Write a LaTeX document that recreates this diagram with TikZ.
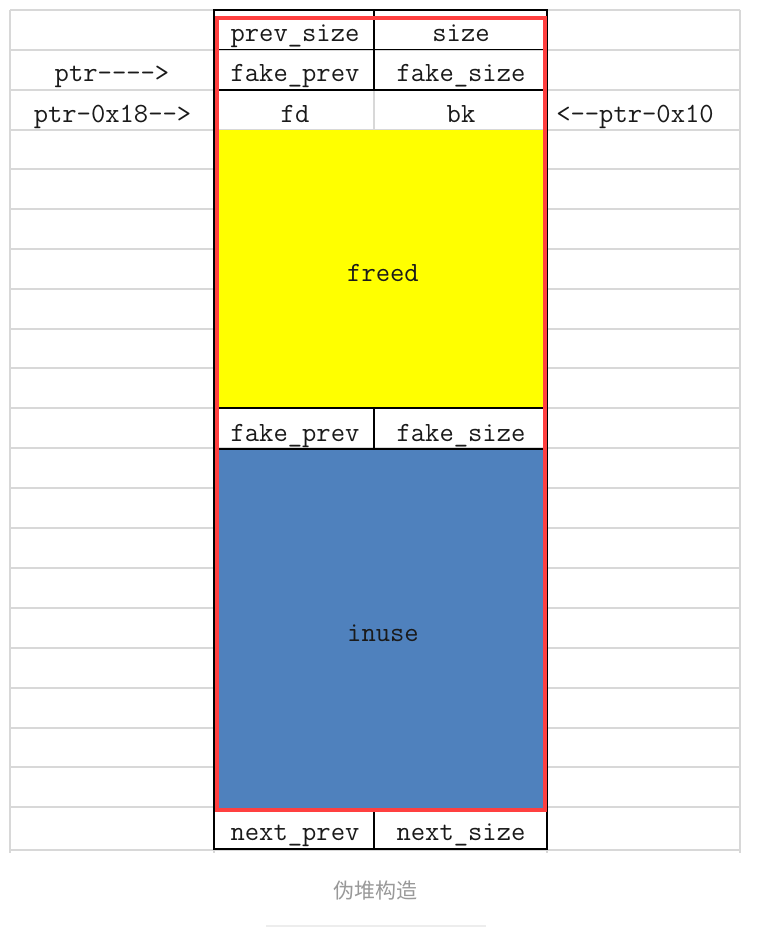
\documentclass[tikz,border=0pt]{standalone}
\usepackage{fontspec}
\newfontfamily\cjk{Noto Sans CJK SC}
\definecolor{gridgray}{HTML}{D8D8D8}
\definecolor{freedyellow}{HTML}{FFFF00}
\definecolor{inuseblue}{HTML}{4F81BD}
\definecolor{boxred}{HTML}{FF4040}
\definecolor{txt}{HTML}{1A1A1A}
\definecolor{captiongray}{HTML}{999999}
\tikzset{
  cell/.style={anchor=base, inner sep=0pt, text=txt, font=\ttfamily\fontsize{27.8}{32}\selectfont},
  grid/.style={draw=gridgray, line width=1.4pt},
  blk/.style={draw=black, line width=2pt},
  blkthin/.style={draw=black, line width=1.5pt},
}
\begin{document}
\begin{tikzpicture}[x=1pt,y=-1pt]
\useasboundingbox (0,0) rectangle (762,931);
\fill[white] (0,0) rectangle (762,931);
% spreadsheet grid
\foreach \y in {10,50,90,130,169,209,249,289,329,368,408,448,488,528,568,608,648,688,728,767,807,850}
  \draw[grid] (10,\y) -- (740,\y);
\foreach \x in {10,214,547,740}
  \draw[grid] (\x,10) -- (\x,853);
% fills
\fill[freedyellow] (214,130) rectangle (547,408);
\fill[inuseblue] (214,449) rectangle (547,808);
% fd/bk light divider
\draw[grid] (374,90) -- (374,130);
% black cell borders
\draw[blk] (214,10) rectangle (547,849);
\draw[blkthin] (214,49.5) -- (547,49.5);
\draw[draw=black, line width=2.6pt] (214,90) -- (547,90);
\draw[blk] (214,408) -- (547,408);
\draw[blk] (214,449) -- (547,449);
\draw[blk] (214,808.5) -- (547,808.5);
\draw[blkthin] (374,10) -- (374,90);
\draw[blk] (374,408) -- (374,449);
\draw[blk] (374,809) -- (374,849);
% red frame
\draw[draw=boxred, line width=4pt] (217,18) rectangle (545,810);
% texts
\node[cell] (prevsize) at (295,42) {prev\_size};
\node[cell] (size) at (461,42) {size};
\node[cell] (fakeprev) at (295,82) {fake\_prev};
\node[cell] (fakesize) at (461,82) {fake\_size};
\node[cell] (fd) at (295,122) {fd};
\node[cell] (bk) at (461,122) {bk};
\node[cell] (freed) at (383,281) {freed};
\node[cell] (fakeprevb) at (295,441) {fake\_prev};
\node[cell] (fakesizeb) at (461,441) {fake\_size};
\node[cell] (inuse) at (383,641) {inuse};
\node[cell] (nextprev) at (295,840) {next\_prev};
\node[cell] (nextsize) at (461,840) {next\_size};
\node[cell] (ptr) at (112,82) {ptr---->};
\node[cell] (ptrm18) at (112.5,122) {ptr-0x18-->};
\node[cell] (ptrm10) at (635,122) {<--ptr-0x10};
% caption
\node[anchor=center, inner sep=0pt, text=captiongray, font=\cjk\fontsize{21}{25}\selectfont] (caption) at (375.5,891) {伪堆构造};
\draw[draw=black!7, line width=1.2pt] (266,926) -- (486,926);
\end{tikzpicture}
\end{document}
